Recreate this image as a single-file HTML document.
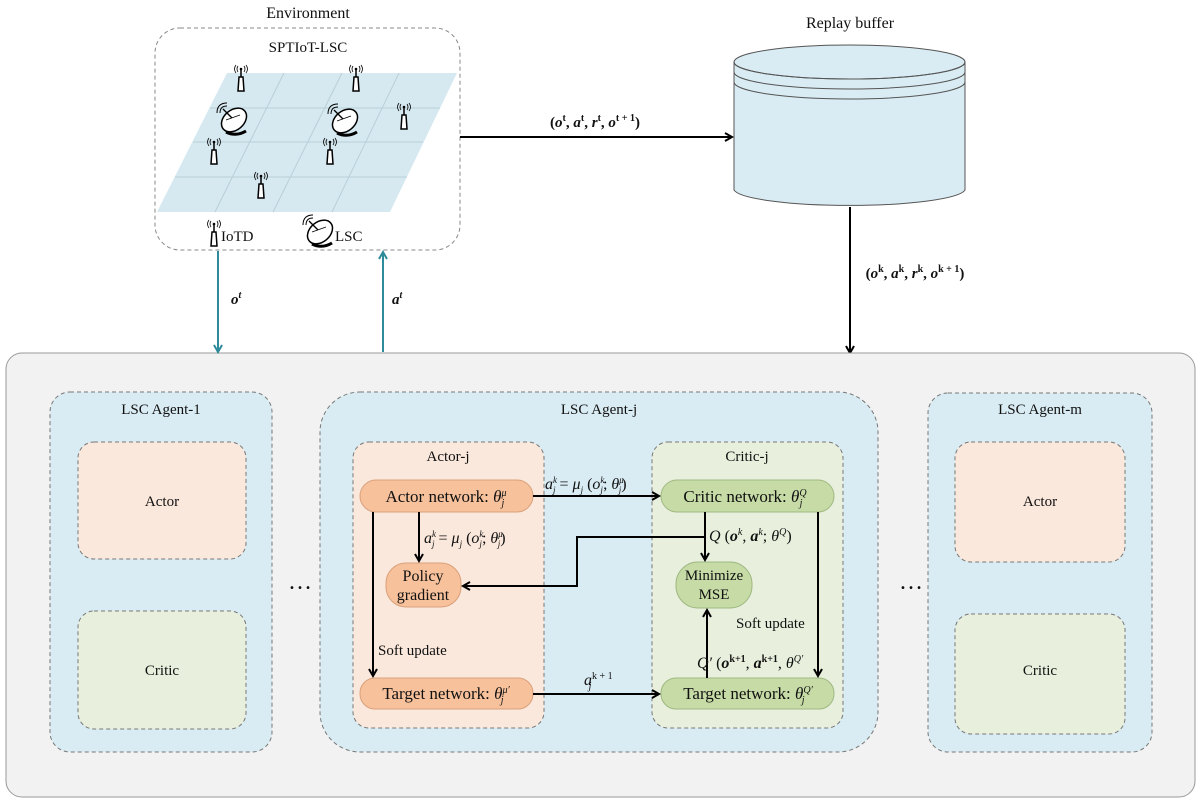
<!DOCTYPE html>
<html><head><meta charset="utf-8"><style>
html,body{margin:0;padding:0;background:#fff}
svg{display:block}
text{font-family:"Liberation Serif",serif;fill:#111}
</style></head><body>
<svg width="1200" height="804" viewBox="0 0 1200 804" xmlns="http://www.w3.org/2000/svg">
<defs>
<marker id="ah" markerWidth="10" markerHeight="10" refX="8" refY="5" orient="auto" markerUnits="userSpaceOnUse">
<path d="M1,1 L8,5 L1,9" fill="none" stroke="#000" stroke-width="2"/></marker>
<marker id="aht" markerWidth="10" markerHeight="10" refX="8" refY="5" orient="auto" markerUnits="userSpaceOnUse">
<path d="M1,1 L8,5 L1,9" fill="none" stroke="#2e8b9a" stroke-width="2"/></marker>
<g id="tw"><path d="M-3,18 L-2,4 L2,4 L3,18 Z" fill="#fff" stroke="#000" stroke-width="1.5"/><line x1="0" y1="4" x2="0" y2="-4" stroke="#000" stroke-width="1.5"/><circle cx="0" cy="-4" r="1.3"/><path d="M-3,-7 Q-5,-4 -3,-1 M3,-7 Q5,-4 3,-1 M-5,-8 Q-8,-4 -5,0 M5,-8 Q8,-4 5,0" fill="none" stroke="#000" stroke-width="0.8"/></g>
<g id="dish"><ellipse cx="0" cy="0" rx="14" ry="10" transform="rotate(-40)" fill="#fff" stroke="#000" stroke-width="1.5"/><path d="M-8,12 Q2,17 12,11" fill="none" stroke="#000" stroke-width="3"/><line x1="-2" y1="-2" x2="-11" y2="-11" stroke="#000" stroke-width="1.3"/><path d="M-14,-7 Q-14,-14 -7,-14 M-17,-7 Q-17,-17 -7,-17" fill="none" stroke="#000" stroke-width="1"/><line x1="-8" y1="0" x2="6" y2="-5" stroke="#000" stroke-width="0.8"/></g>
</defs>

<!-- Environment -->
<text x="308" y="18" font-size="16" text-anchor="middle">Environment</text>
<rect x="155" y="28" width="305" height="222" rx="25" fill="#fff" stroke="#888" stroke-width="1" stroke-dasharray="4,3"/>
<text x="308" y="52" font-size="15" text-anchor="middle">SPTIoT-LSC</text>
<polygon points="227,73 457,73 390,212 157,212" fill="#d6e9f1"/>
<g stroke="#b9cfd8" stroke-width="1">
<line x1="210" y1="108" x2="440" y2="108"/><line x1="193" y1="142" x2="423" y2="142"/><line x1="175" y1="177" x2="407" y2="177"/>
<line x1="284" y1="73" x2="215" y2="212"/><line x1="342" y1="73" x2="273" y2="212"/><line x1="399" y1="73" x2="332" y2="212"/>
</g>
<use href="#tw" x="241" y="73"/><use href="#tw" x="356" y="73"/><use href="#tw" x="404" y="111"/>
<use href="#tw" x="214" y="146"/><use href="#tw" x="330" y="146"/><use href="#tw" x="261" y="180"/>
<use href="#dish" x="234" y="120"/><use href="#dish" x="345" y="121"/>
<use href="#tw" x="214" y="228"/><text x="221" y="241" font-size="15">IoTD</text>
<use href="#dish" x="320" y="232"/><text x="335" y="241" font-size="15">LSC</text>

<!-- Replay buffer -->
<text x="850" y="28" font-size="16" text-anchor="middle">Replay buffer</text>
<path d="M734,62 L734,190 A116,17 0 0 0 965,190 L965,62" fill="#d9ecf3" stroke="#555" stroke-width="1"/>
<ellipse cx="849.5" cy="62" rx="115.5" ry="17" fill="#d9ecf3" stroke="#555" stroke-width="1"/>
<path d="M734,62 A115.5,17 0 0 0 965,62 M734,72 A115.5,17 0 0 0 965,72 M734,82 A115.5,17 0 0 0 965,82" fill="none" stroke="#555" stroke-width="1"/>

<line x1="460" y1="137" x2="732" y2="137" stroke="#000" stroke-width="2" marker-end="url(#ah)"/>
<text x="595" y="127" font-size="15" text-anchor="middle" font-weight="bold">(<tspan font-style="italic">o</tspan><tspan font-size="10" dy="-6">t</tspan><tspan dy="6">, </tspan><tspan font-style="italic">a</tspan><tspan font-size="10" dy="-6">t</tspan><tspan dy="6">, </tspan><tspan font-style="italic">r</tspan><tspan font-size="10" dy="-6">t</tspan><tspan dy="6">, </tspan><tspan font-style="italic">o</tspan><tspan font-size="10" dy="-6">t + 1</tspan><tspan dy="6">)</tspan></text>
<line x1="850" y1="207" x2="850" y2="353" stroke="#000" stroke-width="2" marker-end="url(#ah)"/>
<text x="915" y="278" font-size="15" text-anchor="middle" font-weight="bold">(<tspan font-style="italic">o</tspan><tspan font-size="10" dy="-6">k</tspan><tspan dy="6">, </tspan><tspan font-style="italic">a</tspan><tspan font-size="10" dy="-6">k</tspan><tspan dy="6">, </tspan><tspan font-style="italic">r</tspan><tspan font-size="10" dy="-6">k</tspan><tspan dy="6">, </tspan><tspan font-style="italic">o</tspan><tspan font-size="10" dy="-6">k + 1</tspan><tspan dy="6">)</tspan></text>

<!-- big container -->
<rect x="6" y="353" width="1189" height="444" rx="16" fill="#f2f2f2" stroke="#999" stroke-width="1"/>
<line x1="218" y1="251" x2="218" y2="352" stroke="#2e8b9a" stroke-width="2" marker-end="url(#aht)"/>
<line x1="383" y1="352" x2="383" y2="252" stroke="#2e8b9a" stroke-width="2" marker-end="url(#aht)"/>
<text x="231" y="304" font-size="15" font-weight="bold" font-style="italic">o<tspan font-size="10" dy="-6">t</tspan></text>
<text x="392" y="304" font-size="15" font-weight="bold" font-style="italic">a<tspan font-size="10" dy="-6">t</tspan></text>

<!-- Agent-1 -->
<rect x="50" y="392" width="222" height="360" rx="20" fill="#d9ecf3" stroke="#777" stroke-dasharray="4,3"/>
<text x="161" y="414" font-size="15" text-anchor="middle">LSC Agent-1</text>
<rect x="78" y="442" width="168" height="117" rx="16" fill="#fbe8dc" stroke="#777" stroke-dasharray="4,3"/>
<text x="162" y="506" font-size="15" text-anchor="middle">Actor</text>
<rect x="78" y="611" width="168" height="118" rx="16" fill="#e8f0dd" stroke="#777" stroke-dasharray="4,3"/>
<text x="162" y="675" font-size="15" text-anchor="middle">Critic</text>
<text x="300" y="589" font-size="24" text-anchor="middle">…</text>

<!-- Agent-m -->
<rect x="928" y="393" width="224" height="359" rx="20" fill="#d9ecf3" stroke="#777" stroke-dasharray="4,3"/>
<text x="1040" y="414" font-size="15" text-anchor="middle">LSC Agent-m</text>
<rect x="955" y="442" width="170" height="120" rx="16" fill="#fbe8dc" stroke="#777" stroke-dasharray="4,3"/>
<text x="1040" y="506" font-size="15" text-anchor="middle">Actor</text>
<rect x="955" y="614" width="170" height="120" rx="16" fill="#e8f0dd" stroke="#777" stroke-dasharray="4,3"/>
<text x="1040" y="675" font-size="15" text-anchor="middle">Critic</text>
<text x="911" y="589" font-size="24" text-anchor="middle">…</text>

<!-- Agent-j -->
<rect x="320" y="392" width="558" height="360" rx="40" fill="#d9ecf3" stroke="#777" stroke-dasharray="4,3"/>
<text x="599" y="414" font-size="15" text-anchor="middle">LSC Agent-j</text>
<rect x="353" y="442" width="191" height="286" rx="16" fill="#fbe8dc" stroke="#777" stroke-dasharray="4,3"/>
<text x="448" y="461" font-size="15" text-anchor="middle">Actor-j</text>
<rect x="652" y="442" width="191" height="286" rx="16" fill="#e8f0dd" stroke="#777" stroke-dasharray="4,3"/>
<text x="747" y="461" font-size="15" text-anchor="middle">Critic-j</text>

<rect x="360" y="480" width="173" height="32" rx="16" fill="#f7c19c" stroke="#d9a07a"/>
<text x="446" y="502" font-size="17" text-anchor="middle">Actor network: <tspan font-style="italic">θ</tspan><tspan font-size="10" dy="-6" font-style="italic">μ</tspan><tspan font-size="10" dx="-5" dy="10" font-style="italic">j</tspan></text>
<rect x="661" y="480" width="173" height="32" rx="16" fill="#c6dba6" stroke="#9fb882"/>
<text x="745" y="502" font-size="17" text-anchor="middle">Critic network: <tspan font-style="italic">θ</tspan><tspan font-size="10" dy="-6" font-style="italic">Q</tspan><tspan font-size="10" dx="-7" dy="10" font-style="italic">j</tspan></text>
<rect x="386" y="563" width="75" height="44" rx="20" fill="#f7c19c" stroke="#d9a07a"/>
<text x="423" y="581" font-size="16" text-anchor="middle">Policy</text>
<text x="423" y="600" font-size="16" text-anchor="middle">gradient</text>
<rect x="676" y="562" width="76" height="46" rx="22" fill="#c6dba6" stroke="#9fb882"/>
<text x="714" y="580" font-size="15" text-anchor="middle">Minimize</text>
<text x="714" y="599" font-size="15" text-anchor="middle">MSE</text>
<rect x="360" y="678" width="173" height="31" rx="15" fill="#f7c19c" stroke="#d9a07a"/>
<text x="446" y="699" font-size="17" text-anchor="middle">Target network: <tspan font-style="italic">θ</tspan><tspan font-size="10" dy="-6" font-style="italic">μ′</tspan><tspan font-size="10" dx="-9" dy="10" font-style="italic">j</tspan></text>
<rect x="661" y="678" width="173" height="31" rx="15" fill="#c6dba6" stroke="#9fb882"/>
<text x="748" y="699" font-size="17" text-anchor="middle">Target network: <tspan font-style="italic">θ</tspan><tspan font-size="10" dy="-6" font-style="italic">Q′</tspan><tspan font-size="10" dx="-11" dy="10" font-style="italic">j</tspan></text>

<g stroke="#000" stroke-width="2" fill="none">
<line x1="533" y1="496" x2="659" y2="496" marker-end="url(#ah)"/>
<line x1="533" y1="694" x2="659" y2="694" marker-end="url(#ah)"/>
<line x1="373" y1="512" x2="373" y2="676" marker-end="url(#ah)"/>
<line x1="419" y1="512" x2="419" y2="561" marker-end="url(#ah)"/>
<line x1="705" y1="512" x2="705" y2="560" marker-end="url(#ah)"/>
<polyline points="705,537 577,537 577,586 463,586" marker-end="url(#ah)"/>
<line x1="818" y1="512" x2="818" y2="676" marker-end="url(#ah)"/>
<line x1="707" y1="678" x2="707" y2="610" marker-end="url(#ah)"/>
</g>
<text x="545" y="489" font-size="16" font-style="italic">a<tspan font-size="9" dy="-6">k</tspan><tspan font-size="9" dx="-4" dy="10">j</tspan><tspan dy="-4" font-style="normal"> = </tspan>μ<tspan font-size="9" dy="4">j</tspan><tspan dy="-4" font-style="normal"> (</tspan>o<tspan font-size="9" dy="-6">k</tspan><tspan font-size="9" dx="-4" dy="10">j</tspan><tspan dy="-4" font-style="normal">; </tspan>θ<tspan font-size="9" dy="-6">μ</tspan><tspan font-size="9" dx="-5" dy="10">j</tspan><tspan dy="-4" font-style="normal">)</tspan></text>
<text x="424" y="543" font-size="16" font-style="italic">a<tspan font-size="9" dy="-6">k</tspan><tspan font-size="9" dx="-4" dy="10">j</tspan><tspan dy="-4" font-style="normal"> = </tspan>μ<tspan font-size="9" dy="4">j</tspan><tspan dy="-4" font-style="normal"> (</tspan>o<tspan font-size="9" dy="-6">k</tspan><tspan font-size="9" dx="-4" dy="10">j</tspan><tspan dy="-4" font-style="normal">; </tspan>θ<tspan font-size="9" dy="-6">μ</tspan><tspan font-size="9" dx="-5" dy="10">j</tspan><tspan dy="-4" font-style="normal">)</tspan></text>
<text x="709" y="541" font-size="16"><tspan font-style="italic">Q</tspan>  (<tspan font-style="italic" font-weight="bold">o</tspan><tspan font-size="10" dy="-6" font-style="italic">k</tspan><tspan dy="6">, </tspan><tspan font-style="italic" font-weight="bold">a</tspan><tspan font-size="10" dy="-6" font-style="italic">k</tspan><tspan dy="6">; </tspan><tspan font-style="italic">θ</tspan><tspan font-size="10" dy="-6" font-style="italic">Q</tspan><tspan dy="6">)</tspan></text>
<text x="697" y="668" font-size="16"><tspan font-style="italic">Q′</tspan> (<tspan font-style="italic" font-weight="bold">o</tspan><tspan font-size="10" dy="-6" font-weight="bold">k+1</tspan><tspan dy="6">, </tspan><tspan font-style="italic" font-weight="bold">a</tspan><tspan font-size="10" dy="-6" font-weight="bold">k+1</tspan><tspan dy="6">, </tspan><tspan font-style="italic">θ</tspan><tspan font-size="10" dy="-6" font-style="italic">Q′</tspan></text>
<text x="584" y="685" font-size="16" font-style="italic">a<tspan font-size="10" dy="-6" font-style="normal">k + 1</tspan><tspan font-size="10" dx="-24" dy="10">j</tspan></text>
<text x="378" y="655" font-size="15">Soft update</text>
<text x="736" y="628" font-size="15">Soft update</text>
</svg>
</body></html>
